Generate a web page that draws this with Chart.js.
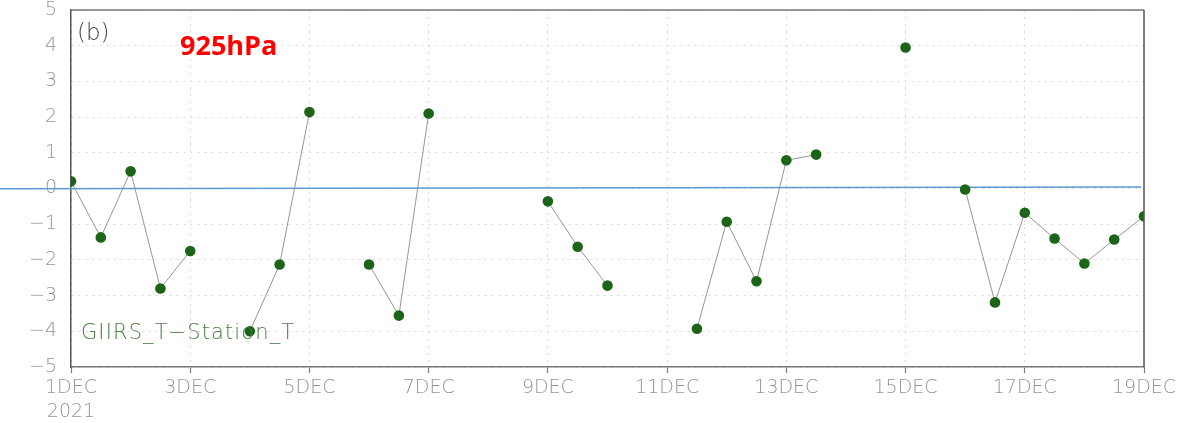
<!DOCTYPE html>
<html>
<head>
<meta charset="utf-8">
<script src="https://cdn.jsdelivr.net/npm/chart.js@4/dist/chart.umd.min.js"></script>
<style>
  html, body { margin: 0; padding: 0; background: #fff; }
  canvas { display: block; }
</style>
</head>
<body>
<canvas id="c" width="1183" height="423"></canvas>
<script>
// Time axis: days since 1 DEC 2021 00Z, sampled every 12 hours
const times = [0, 0.5, 1, 1.5, 2, 2.5, 3, 3.5, 4, 4.5, 5, 5.5, 6, 6.5, 7, 7.5, 8, 8.5, 9, 9.5,
               10, 10.5, 11, 11.5, 12, 12.5, 13, 13.5, 14, 14.5, 15, 15.5, 16, 16.5, 17, 17.5, 18];
// GIIRS temperature minus station temperature at 925 hPa (K); null = no sample
const diffT = [0.2, -1.37, 0.48, -2.8, -1.75, null, -4.0, -2.13, 2.14, null,
               -2.13, -3.56, 2.1, null, null, null, -0.36, -1.63, -2.72, null,
               null, -3.93, -0.93, -2.6, 0.79, 0.95, null, null, 3.95, null,
               -0.03, -3.19, -0.68, -1.4, -2.1, -1.43, -0.78];
// Zero reference line (start / end)
const zeroLineX = [-1.19, 17.95];
const zeroLineY = [-0.01, 0.045];
// Axis ticks
const xTickDays = [1, 3, 5, 7, 9, 11, 13, 15, 17, 19];
const yTicks = [-5, -4, -3, -2, -1, 0, 1, 2, 3, 4, 5];

const seriesPoints = times.map((t, i) => ({ x: t, y: diffT[i] }));
const zeroPoints = zeroLineX.map((x, i) => ({ x: x, y: zeroLineY[i] }));

const tickFont = { family: 'DejaVu Sans', size: 19, weight: 200, lineHeight: 1.25 };
const gridGrey = '#d8d8d8';

const framePlugin = {
  id: 'frameAndNotes',
  afterDatasetsDraw(chart) {
    const { ctx, chartArea: a } = chart;
    ctx.save();
    // plot frame
    ctx.strokeStyle = '#777';
    ctx.lineWidth = 1.5;
    ctx.beginPath();
    ctx.moveTo(a.left, a.top);
    ctx.lineTo(a.right, a.top);
    ctx.stroke();
    ctx.strokeStyle = '#555';
    ctx.beginPath();
    ctx.moveTo(a.right, a.top);
    ctx.lineTo(a.right, a.bottom);
    ctx.stroke();
    ctx.textBaseline = 'alphabetic';
    ctx.textAlign = 'left';
    // panel tag
    ctx.fillStyle = '#444';
    ctx.font = '200 23px "DejaVu Sans"';
    ctx.fillText('(b)', a.left + 6, a.top + 30);
    // level title
    ctx.fillStyle = '#ff0000';
    ctx.font = 'bold 27px "Open Sans"';
    ctx.fillText('925hPa', 180, 55);
    // series name
    ctx.fillStyle = '#4c7d44';
    ctx.font = '200 21px "DejaVu Sans"';
    ctx.letterSpacing = '1.1px';
    ctx.fillText('GIIRS_T\u2212Station_T', 81, 339);
    ctx.restore();
  }
};

new Chart(document.getElementById('c'), {
  type: 'line',
  data: {
    datasets: [
      {
        data: seriesPoints,
        borderColor: '#8a8a8a',
        borderWidth: 0.9,
        pointBackgroundColor: '#1b6418',
        pointBorderColor: '#1b6418',
        pointRadius: 5.3,
        pointBorderWidth: 0,
        spanGaps: false,
        order: 1
      },
      {
        data: zeroPoints,
        borderColor: '#5b9bd5',
        borderWidth: 1.5,
        pointRadius: 0,
        clip: false,
        order: 2
      }
    ]
  },
  options: {
    responsive: false,
    animation: false,
    events: [],
    layout: { padding: { top: 10, right: 39, left: 0, bottom: 0 } },
    plugins: { legend: { display: false }, tooltip: { enabled: false } },
    scales: {
      x: {
        type: 'linear',
        min: 0,
        max: 18,
        afterFit(scale) { scale.height = 56; scale.paddingLeft = 0; scale.paddingRight = 0; },
        afterBuildTicks(scale) { scale.ticks = xTickDays.map(d => ({ value: d - 1 })); },
        ticks: {
          color: '#949494',
          font: tickFont,
          padding: 3,
          maxRotation: 0,
          autoSkip: false,
          callback(v) {
            const lbl = (v + 1) + 'DEC';
            return v === 0 ? [lbl, '2021'] : lbl;
          }
        },
        grid: {
          color: gridGrey,
          tickColor: '#777',
          tickLength: 6,
          tickBorderDash: [],
          tickWidth: 1.2
        },
        border: { display: true, color: '#777', width: 1.5, dash: [2, 5] }
      },
      y: {
        min: -5,
        max: 5,
        afterFit(scale) { scale.width = 71; scale.paddingTop = 0; scale.paddingBottom = 0; },
        afterBuildTicks(scale) { scale.ticks = yTicks.map(v => ({ value: v })); },
        ticks: {
          color: '#949494',
          font: tickFont,
          padding: 14,
          callback(v) { return v < 0 ? '\u2212' + Math.abs(v) : String(v); }
        },
        grid: {
          color: gridGrey,
          drawTicks: false
        },
        border: { display: true, color: '#555', width: 1.5, dash: [2, 5] }
      }
    }
  },
  plugins: [framePlugin]
});
</script>
</body>
</html>
